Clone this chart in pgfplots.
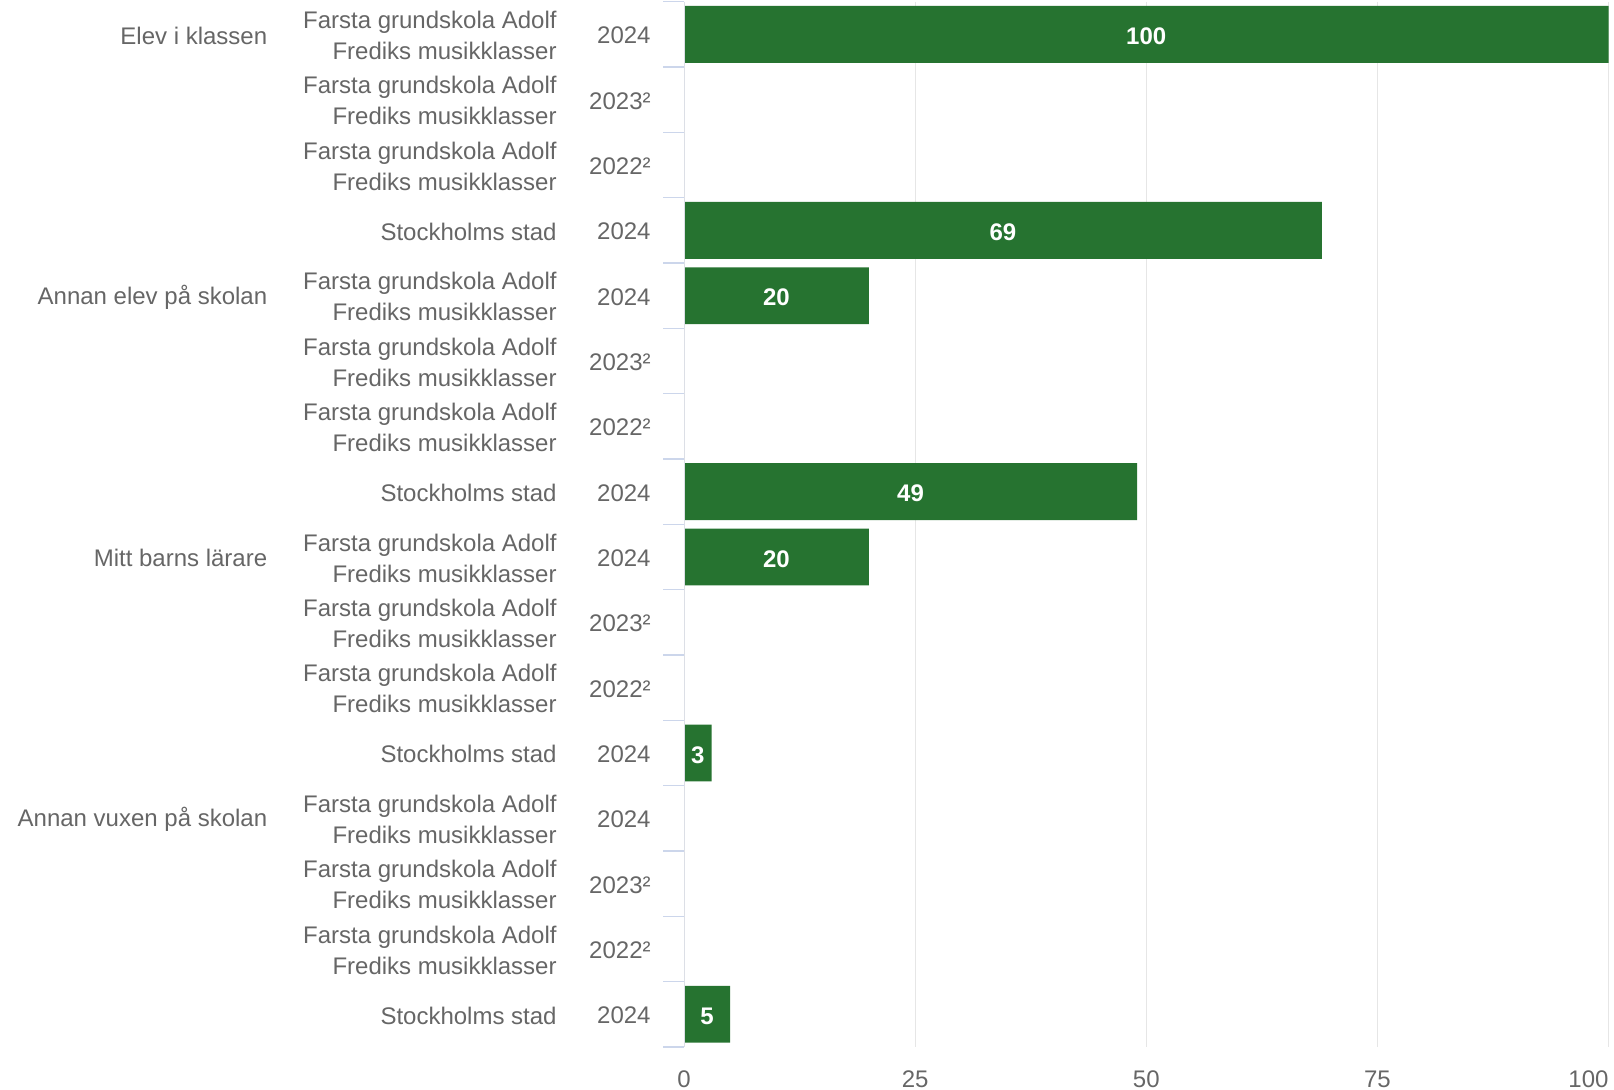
\documentclass[border=0pt]{standalone}
\usepackage{pgfplots}
\pgfplotsset{compat=1.18}
\usepackage{pgfplotstable}
\usepackage{fontspec}
\setmainfont{Liberation Sans}

\definecolor{bargreen}{HTML}{267330}
\definecolor{labelgray}{HTML}{666666}
\definecolor{gridgray}{HTML}{E6E6E6}
\definecolor{tickblue}{HTML}{CCD6EB}
\definecolor{axisgray}{HTML}{DCDFE6}

% one row per bar, top to bottom; nan = no bar
\pgfplotstableread{
row value
1  100
2  nan
3  nan
4  69
5  20
6  nan
7  nan
8  49
9  20
10 nan
11 nan
12 3
13 nan
14 nan
15 nan
16 5
}\bars

\pgfplotsset{
  frame/.style={
    at={(342pt,-0.85pt)}, anchor=north west,
    scale only axis, width=462.25pt, height=522.6pt,
    xmin=0, xmax=100, ymin=0.5, ymax=16.5, y dir=reverse,
    axis line style={draw=none},
    major tick length=0pt,
    tick label style={font=\fontsize{12}{15.5}\selectfont, text=labelgray},
  },
}

\begin{document}
\begin{tikzpicture}
% bars, years and x axis
\begin{axis}[frame,
    xtick={0,25,50,75,100},
    xticklabels={0,25,50,75,\llap{100}},
    xticklabel style={anchor=base, inner sep=0pt, yshift=-20.3pt},
    xtick style={draw=none},
    xmajorgrids, grid style={gridgray, line width=0.5pt},
    ytick={1,...,16},
    yticklabels={2024,2023²,2022²,2024,2024,2023²,2022²,2024,2024,2023²,2022²,2024,2024,2023²,2022²,2024},
    yticklabel style={anchor=east, inner sep=0pt, xshift=-16.5pt, yshift=-0.6pt},
    minor ytick={0.5,1.5,...,16.5},
    minor tick length=10.5pt, tick align=outside, ytick pos=left,
    minor tick style={draw=tickblue, line width=0.6pt},
  ]
  \addplot[xbar, bar width=0.87, fill=bargreen, draw=none,
    visualization depends on={x \as \rawx},
    nodes near coords,
    /pgf/number format/assume math mode=true,
    every node near coord/.append style={text=white, anchor=center,
      font=\fontsize{12}{14}\selectfont\bfseries, xshift=-\rawx*2.31125pt, yshift=-1pt},
  ] table[x=value, y=row] {\bars};
  \draw[axisgray, line width=1pt] (axis cs:0,0.5) -- (axis cs:0,16.5);
\end{axis}
% school / city labels
\begin{axis}[frame,
    xtick=\empty,
    ytick={1,...,16},
    yticklabels={
      {Farsta grundskola Adolf\\Frediks musikklasser},{Farsta grundskola Adolf\\Frediks musikklasser},{Farsta grundskola Adolf\\Frediks musikklasser},Stockholms stad,
      {Farsta grundskola Adolf\\Frediks musikklasser},{Farsta grundskola Adolf\\Frediks musikklasser},{Farsta grundskola Adolf\\Frediks musikklasser},Stockholms stad,
      {Farsta grundskola Adolf\\Frediks musikklasser},{Farsta grundskola Adolf\\Frediks musikklasser},{Farsta grundskola Adolf\\Frediks musikklasser},Stockholms stad,
      {Farsta grundskola Adolf\\Frediks musikklasser},{Farsta grundskola Adolf\\Frediks musikklasser},{Farsta grundskola Adolf\\Frediks musikklasser},Stockholms stad},
    yticklabel style={anchor=east, inner sep=0pt, align=right, xshift=-63.5pt, yshift=-0.6pt},
    ytick style={draw=none},
  ]
\end{axis}
% question groups
\begin{axis}[frame,
    xtick=\empty,
    ytick={1,5,9,13},
    yticklabels={Elev i klassen,Annan elev på skolan,Mitt barns lärare,Annan vuxen på skolan},
    yticklabel style={anchor=east, inner sep=0pt, xshift=-208.2pt, yshift=-0.6pt},
    ytick style={draw=none},
  ]
\end{axis}
\pgfresetboundingbox
\path (0,0) rectangle (807pt,-545pt);
\end{tikzpicture}
\end{document}
